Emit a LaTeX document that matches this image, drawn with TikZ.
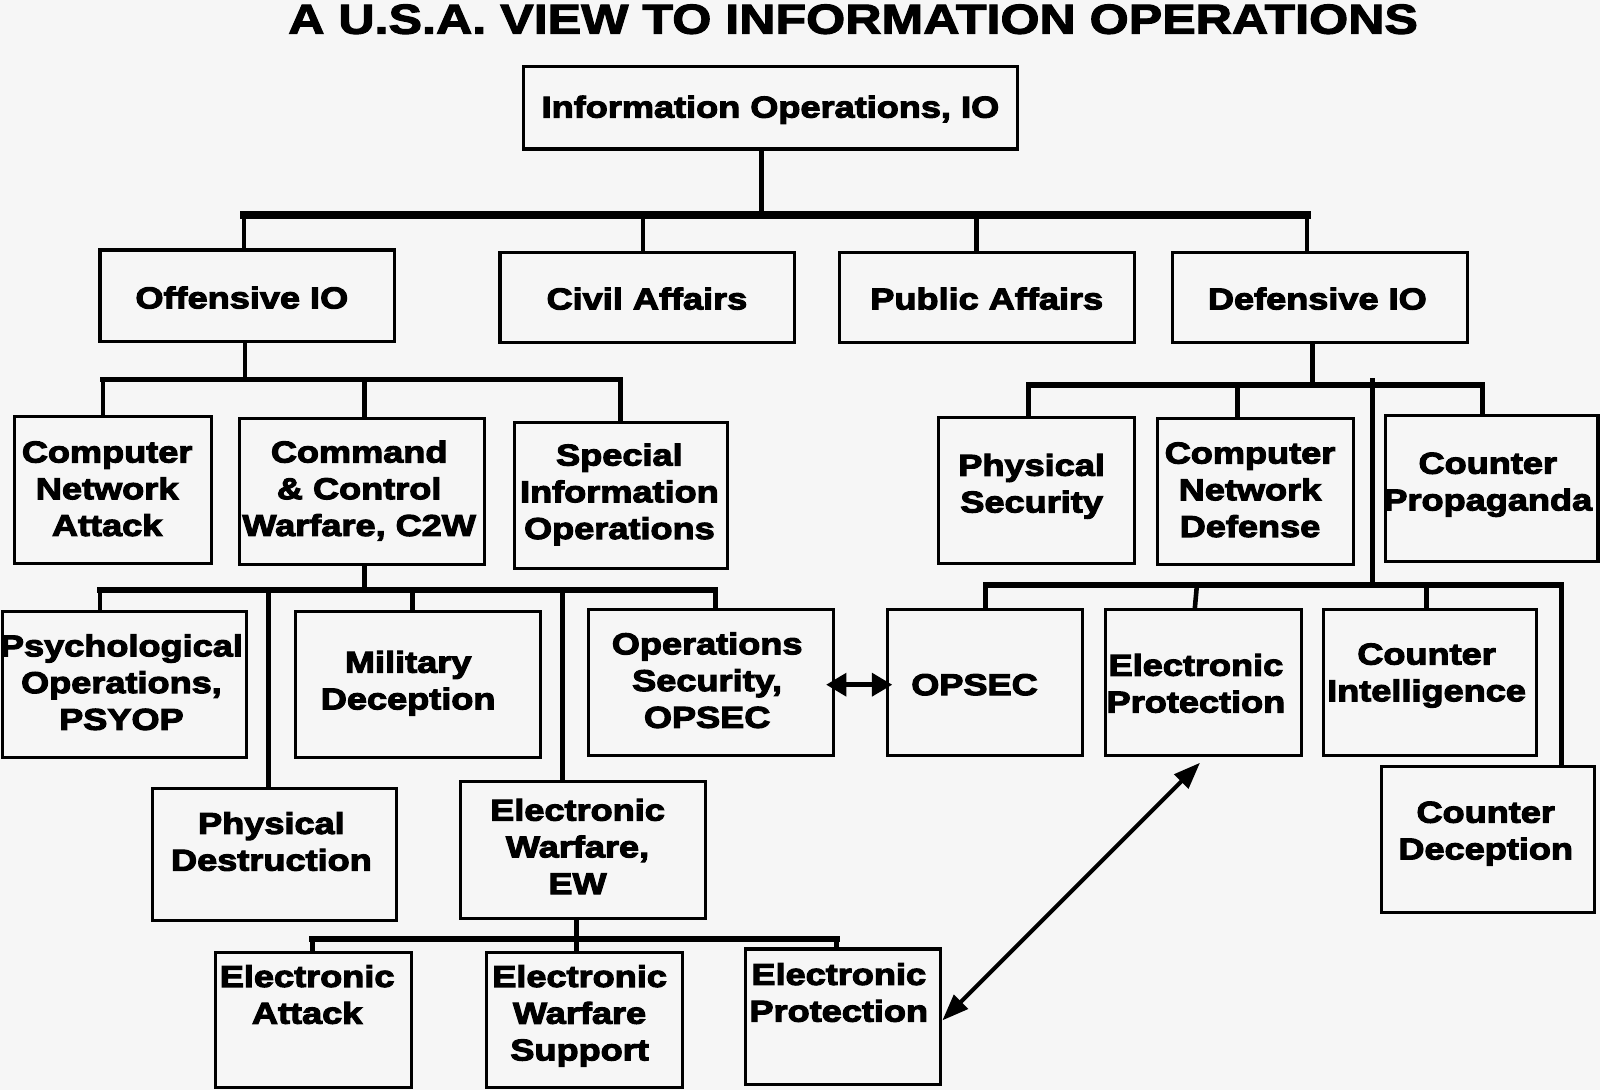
\documentclass[tikz,border=0pt]{standalone}
\usepackage{fontspec}
\setmainfont{Liberation Sans}
\newfontfamily\heavy{Liberation Sans Bold}[FakeStretch=1.2]
\newcommand\thick{\special{pdf:literal direct 2 Tr 1.1 w}}
\usetikzlibrary{arrows.meta}
\definecolor{bgc}{RGB}{246,246,246}
\newcommand\bx[5]{\node[box, minimum width={(#4)-(#2)}, minimum height={(#5)-(#3)}] (#1) at ({((#2)+(#4))/2},{((#3)+(#5))/2}) {};}
\begin{document}
\begin{tikzpicture}[x=1pt,y=-1pt,
  box/.style={draw=black, line width=3pt, inner sep=0pt},
  txt/.style={align=center, inner sep=0pt, font=\heavy\fontsize{29.5}{36}\selectfont\thick},
  ttl/.style={inner sep=0pt, anchor=base, font=\heavy\fontsize{41}{48}\selectfont\thick},
  conn/.style={line width=4.5pt, line cap=rect},
  bar/.style={line width=5.5pt, line cap=rect},
  topbar/.style={line width=8pt, line cap=rect},
  dbl/.style={line width=5pt, {Triangle[length=20pt,width=22pt]}-{Triangle[length=20pt,width=22pt]}},
  diag/.style={line width=4pt, {Triangle[length=26pt,width=19pt]}-{Triangle[length=26pt,width=19pt]}}]
\fill[bgc] (0,0) rectangle (1568,1068);
\useasboundingbox (0,0) rectangle (1568,1068);

% boxes
\bx{io}{513}{65}{997}{146}
\bx{off}{98}{245}{387}{335}
\bx{civ}{490}{247}{779}{336}
\bx{pub}{823}{247}{1112}{336}
\bx{def}{1149}{247}{1438}{336}
\bx{cna}{14}{408}{207}{552}
\bx{c2w}{235}{410}{475}{553}
\bx{sio}{504}{414}{713}{557}
\bx{psy}{2}{599}{242}{742}
\bx{mil}{290}{599}{530}{742}
\bx{ops}{577}{597}{817}{740}
\bx{phd}{149}{773}{389}{902}
\bx{ew}{451}{766}{691}{900}
\bx{ea}{211}{933}{403}{1066}
\bx{ews}{477}{933}{669}{1066}
\bx{epl}{731}{930}{922}{1063}
\bx{phs}{920}{409}{1112}{552}
\bx{cnd}{1134}{410}{1326}{553}
\bx{cpr}{1358}{407}{1566}{550}
\bx{opr}{870}{597}{1061}{740}
\bx{epr}{1083}{597}{1275}{740}
\bx{cin}{1297}{597}{1506}{740}
\bx{cde}{1354}{751}{1563}{894}

% junction coordinates
\coordinate (t0) at (746,211);
\coordinate (ta) at (239,211);
\coordinate (tb) at (630,211);
\coordinate (tc) at (957,211);
\coordinate (td) at (1281,211);

\coordinate (o0) at (240,372);
\coordinate (oa) at (101,372);
\coordinate (ob) at (357,372);
\coordinate (oc) at (608,372);

\coordinate (c0) at (357,578);
\coordinate (ca) at (98,578);
\coordinate (cb) at (263,578);
\coordinate (cc) at (404,578);
\coordinate (cd) at (551,578);
\coordinate (ce) at (701,578);

\coordinate (e0) at (565,920);
\coordinate (ea0) at (306,920);
\coordinate (eb0) at (565,920);
\coordinate (ec0) at (820,920);

\coordinate (d0) at (1286,377);
\coordinate (da) at (1008,377);
\coordinate (db) at (1213,377);
\coordinate (dc) at (1453,377);
\coordinate (dl) at (1345,373);
\coordinate (dm) at (1345,573);
\coordinate (fa) at (966,573);
\coordinate (fb) at (1173,573);
\coordinate (fc) at (1398,573);
\coordinate (fd) at (1530,573);

% level 1
\draw[conn] (io.south -| t0) -- (t0);
\draw[topbar] (ta) -- (td);
\draw[conn] (ta) -- (off.north -| ta);
\draw[conn] (tb) -- (civ.north -| tb);
\draw[conn] (tc) -- (pub.north -| tc);
\draw[conn] (td) -- (def.north -| td);

% offensive
\draw[conn] (off.south -| o0) -- (o0);
\draw[bar] (oa) -- (oc);
\draw[conn] (oa) -- (cna.north -| oa);
\draw[conn] (ob) -- (c2w.north -| ob);
\draw[conn] (oc) -- (sio.north -| oc);

% c2w
\draw[conn] (c2w.south -| c0) -- (c0);
\draw[bar] (ca) -- (ce);
\draw[conn] (ca) -- (psy.north -| ca);
\draw[conn] (cb) -- (phd.north -| cb);
\draw[conn] (cc) -- (mil.north -| cc);
\draw[conn] (cd) -- (ew.north -| cd);
\draw[conn] (ce) -- (ops.north -| ce);

% ew
\draw[conn] (ew.south -| e0) -- (e0);
\draw[bar] (ea0) -- (ec0);
\draw[conn] (ea0) -- (ea.north -| ea0);
\draw[conn] (eb0) -- (ews.north -| eb0);
\draw[conn] (ec0) -- (epl.north -| ec0);

% defensive
\draw[conn] (def.south -| d0) -- (d0);
\draw[bar] (da) -- (dc);
\draw[conn] (da) -- (phs.north -| da);
\draw[conn] (db) -- (cnd.north -| db);
\draw[conn] (dc) -- (cpr.north -| dc);
\draw[conn] (dl) -- (dm);
\draw[bar] (fa) -- (fd);
\draw[conn] (fa) -- (opr.north -| fa);
\draw[conn] (fb) -- ([xshift=-2pt]epr.north -| fb);
\draw[conn] (fc) -- (cin.north -| fc);
\draw[conn] (fd) -- (cde.north -| fd);

% arrows
\draw[dbl, shorten <=-9pt, shorten >=-6pt] ([yshift=-2.5pt]ops.east) -- ([yshift=-2.5pt]opr.west);
\draw[diag] ([yshift=-3.5pt]epl.east) -- ([xshift=-3pt,yshift=-6pt]epr.south);

% title
\node[ttl] (title) at (836,33) {A U.S.A. VIEW TO INFORMATION OPERATIONS};

% texts
\node[txt] (io-t) at (755,108) {\strut Information Operations, IO};
\node[txt] (off-t) at (237,295) {\strut Offensive IO};
\node[txt] (civ-t) at (634,296) {\strut Civil Affairs};
\node[txt] (pub-t) at (967,296) {\strut Public Affairs};
\node[txt] (def-t) at (1291,296) {\strut Defensive IO};
\node[txt] (cna-t) at (105,482) {\strut Computer\\\strut Network\\\strut Attack};
\node[txt] (c2w-t) at (352,482) {\strut Command\\\strut \& Control\\\strut Warfare, C2W};
\node[txt] (sio-t) at (607,485) {\strut Special\\\strut Information\\\strut Operations};
\node[txt] (psy-t) at (119,672) {\strut Psychological\\\strut Operations,\\\strut PSYOP};
\node[txt] (mil-t) at (400,670) {\strut Military\\\strut Deception};
\node[txt] (ops-t) at (693,670) {\strut Operations\\\strut Security,\\\strut OPSEC};
\node[txt] (phd-t) at (266,828) {\strut Physical\\\strut Destruction};
\node[txt] (ew-t) at (566,833) {\strut Electronic\\\strut Warfare,\\\strut EW};
\node[txt] (ea-t) at (301,978) {\strut Electronic\\\strut Attack};
\node[txt] (ews-t) at (568,996) {\strut Electronic\\\strut Warfare\\\strut Support};
\node[txt] (epl-t) at (822,976) {\strut Electronic\\\strut Protection};
\node[txt] (phs-t) at (1011,477) {\strut Physical\\\strut Security};
\node[txt] (cnd-t) at (1225,483) {\strut Computer\\\strut Network\\\strut Defense};
\node[txt] (cpr-t) at (1458,475) {\strut Counter\\\strut Propaganda};
\node[txt] (opr-t) at (955,674) {\strut OPSEC};
\node[txt] (epr-t) at (1172,673) {\strut Electronic\\\strut Protection};
\node[txt] (cin-t) at (1398,662) {\strut Counter\\\strut Intelligence};
\node[txt] (cde-t) at (1456,817) {\strut Counter\\\strut Deception};
\end{tikzpicture}
\end{document}
